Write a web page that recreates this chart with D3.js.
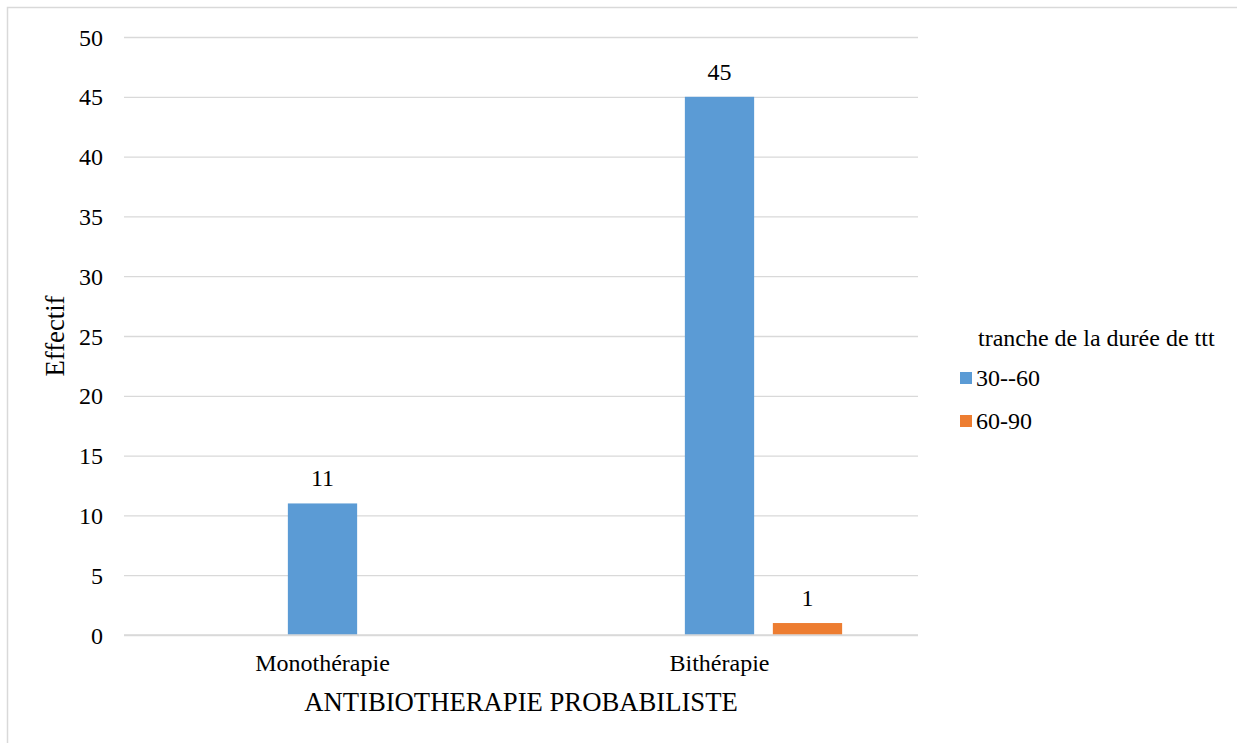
<!DOCTYPE html>
<html>
<head>
<meta charset="utf-8">
<script src="https://cdn.jsdelivr.net/npm/d3@7"></script>
<style>
  html, body { margin: 0; padding: 0; background: #fff; }
  svg { display: block; }
  svg text { font-family: "Liberation Serif", "Times New Roman", serif; fill: #000; }
</style>
</head>
<body>
<svg id="chart" width="1237" height="743"></svg>
<script>
// Categories on the x axis
const categories = ["Monothérapie", "Bithérapie"];
// Series (the first slot is an unused, unnamed series that keeps its place in each group)
const seriesNames = ["", "30--60", "60-90"];
const seriesEmpty = [null, null];
const series30to60 = [11, 45];
const series60to90 = [null, 1];
const seriesColors = ["#A5A5A5", "#5B9BD5", "#ED7D31"];
// Y axis ticks
const yTicks = [0, 5, 10, 15, 20, 25, 30, 35, 40, 45, 50];

const seriesValues = [seriesEmpty, series30to60, series60to90];

const svg = d3.select("#chart");
const plot = { left: 124, right: 918, top: 37, bottom: 635 };
const labelSize = 24;
const titleSize = 26.7;

// Outer frame
svg.append("rect")
  .attr("x", 7.5).attr("y", 7.5)
  .attr("width", 1240).attr("height", 760)
  .attr("fill", "none").attr("stroke", "#D9D9D9").attr("stroke-width", 1.5);

const y = d3.scaleLinear().domain([0, 50]).range([plot.bottom, plot.top]);
const x0 = d3.scaleBand().domain(categories).range([plot.left, plot.right]).padding(0);

// Gap width 219%, overlap -27%
const gapWidth = 2.19, overlap = -0.27;
const n = seriesNames.length;
const barW = x0.bandwidth() / (n + (n - 1) * (-overlap) + gapWidth);
const x1 = d3.scaleBand()
  .domain(d3.range(n))
  .range([barW * gapWidth / 2, x0.bandwidth() - barW * gapWidth / 2])
  .paddingInner((-overlap) / (1 - overlap))
  .paddingOuter(0);

// Gridlines and value labels
const yAxis = d3.axisLeft(y).tickValues(yTicks).tickSize(-(plot.right - plot.left)).tickPadding(21);
const gy = svg.append("g").attr("transform", `translate(${plot.left},0)`).call(yAxis);
gy.attr("font-family", null).attr("font-size", null);
gy.select(".domain").remove();
gy.selectAll(".tick line").attr("stroke", "#D9D9D9").attr("stroke-width", 1.3);
gy.selectAll(".tick text")
  .attr("dy", null)
  .attr("y", 8)
  .attr("font-size", labelSize);

// Bars
const groups = svg.append("g").selectAll("g")
  .data(categories)
  .join("g")
  .attr("transform", d => `translate(${x0(d)},0)`);

groups.each(function (cat, ci) {
  const g = d3.select(this);
  seriesValues.forEach((vals, si) => {
    const v = vals[ci];
    if (v == null) return;
    g.append("rect")
      .attr("x", x1(si))
      .attr("width", x1.bandwidth())
      .attr("y", y(v))
      .attr("height", y(0) - y(v))
      .attr("fill", seriesColors[si]);
    g.append("text")
      .attr("x", x1(si) + x1.bandwidth() / 2)
      .attr("y", y(v) - 17)
      .attr("text-anchor", "middle")
      .attr("font-size", labelSize)
      .text(v);
  });
});

// Category axis line
svg.append("line")
  .attr("x1", plot.left).attr("x2", plot.right)
  .attr("y1", y(0)).attr("y2", y(0))
  .attr("stroke", "#D9D9D9").attr("stroke-width", 1.3);

// Category labels
svg.append("g").selectAll("text")
  .data(categories)
  .join("text")
  .attr("x", d => x0(d) + x0.bandwidth() / 2)
  .attr("y", 671)
  .attr("text-anchor", "middle")
  .attr("font-size", labelSize)
  .text(d => d);

// Axis titles
svg.append("text")
  .attr("x", (plot.left + plot.right) / 2)
  .attr("y", 711)
  .attr("text-anchor", "middle")
  .attr("font-size", titleSize)
  .text("ANTIBIOTHERAPIE PROBABILISTE");

svg.append("text")
  .attr("transform", `translate(64,${(plot.top + plot.bottom) / 2}) rotate(-90)`)
  .attr("text-anchor", "middle")
  .attr("font-size", titleSize)
  .text("Effectif");

// Legend
const legend = svg.append("g");
legend.append("text")
  .attr("x", 978).attr("y", 346)
  .attr("font-size", labelSize)
  .text("tranche de la durée de ttt");

const legendItems = seriesNames
  .map((name, i) => ({ name, i }))
  .filter(d => d.name !== "");
legendItems.forEach((d, k) => {
  const cy = 378 + k * 43;
  legend.append("rect")
    .attr("x", 960).attr("y", cy - 6)
    .attr("width", 12).attr("height", 12)
    .attr("fill", seriesColors[d.i]);
  legend.append("text")
    .attr("x", 976).attr("y", cy + 8)
    .attr("font-size", labelSize)
    .text(d.name);
});
</script>
</body>
</html>
